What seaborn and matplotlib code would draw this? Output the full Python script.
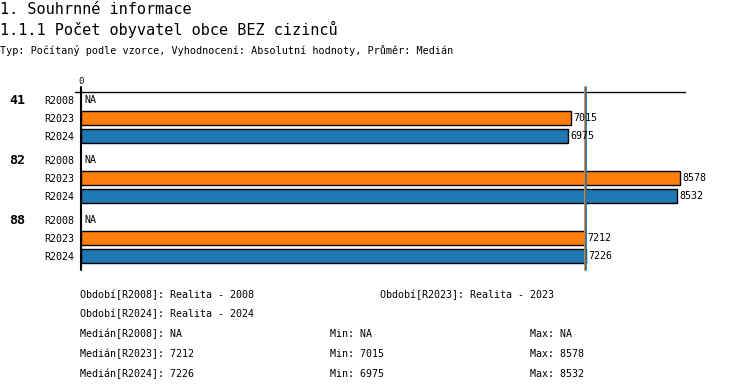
import numpy as np
import pandas as pd
import matplotlib
matplotlib.use("Agg")
import matplotlib.pyplot as plt
import seaborn as sns

# ---- data ----
groups = ["41", "82", "88"]
periods = ["R2008", "R2023", "R2024"]
r2008 = [np.nan, np.nan, np.nan]
r2023 = [7015, 8578, 7212]
r2024 = [6975, 8532, 7226]
period_desc = ["Realita - 2008", "Realita - 2023", "Realita - 2024"]
colors = {"R2008": "#999999", "R2023": "#ff7f0e", "R2024": "#1f77b4"}

title1 = "1. Souhrnné informace"
title2 = "1.1.1 Počet obyvatel obce BEZ cizinců"
subtitle = "Typ: Počítaný podle vzorce, Vyhodnocení: Absolutní hodnoty, Průměr: Medián"

series = {"R2008": r2008, "R2023": r2023, "R2024": r2024}

group_pitch = 60 / 18.0
rows = []
for gi, g in enumerate(groups):
    for pj, p in enumerate(periods):
        rows.append({"group": g, "period": p, "value": series[p][gi],
                     "pos": gi * group_pitch + pj})
df = pd.DataFrame(rows)

sns.set_theme(style="white")
plt.rcParams["font.family"] = ["DejaVu Sans Mono", "DejaVu Sans"]
for k in ["text.color", "axes.labelcolor", "xtick.color", "ytick.color"]:
    plt.rcParams[k] = "black"

W, H = 750, 392
fig = plt.figure(figsize=(W / 100, H / 100), dpi=100)
fig.patch.set_facecolor("white")

def px(x, y):
    return x / W, 1 - y / H

ax_l, ax_r, ax_t, ax_b = 81, 685, 92, 270
ax = fig.add_axes([ax_l / W, 1 - ax_b / H, (ax_r - ax_l) / W, (ax_b - ax_t) / H])

sns.barplot(data=df.dropna(subset=["value"]), x="value", y="pos", hue="period",
            palette=colors, orient="y", native_scale=True, dodge=False,
            width=0.82, errorbar=None, legend=False, edgecolor="black",
            linewidth=1.0, saturation=1, ax=ax)

ytop = -8 / 18
ybot = df["pos"].max() + 14 / 18
ax.set_ylim(ybot, ytop)
ax.set_xlim(0, 8650)
for s in ax.spines.values():
    s.set_visible(False)
ax.set_facecolor("white")
ax.set_xlabel("")
ax.set_ylabel("")

ax.set_yticks(df["pos"], df["period"])
ax.tick_params(axis="y", length=0, pad=5, labelsize=7.2)
ax.xaxis.tick_top()
ax.set_xticks([0], ["0"])
ax.tick_params(axis="x", length=0, pad=4, labelsize=6.5)

# axis lines
ax.plot([-0.01, 1], [1, 1], transform=ax.transAxes, color="black", lw=1.0, clip_on=False)
ax.axvline(0, ymin=0, ymax=1 + 5 / 178, color="black", lw=1.5, clip_on=False)

# median lines
for p in ["R2023", "R2024"]:
    med = np.median(series[p])
    ax.axvline(med, ymin=0, ymax=1 + 5 / 178, color=colors[p], lw=1.3, clip_on=False)

# value labels
for _, r in df.iterrows():
    if np.isnan(r["value"]):
        ax.annotate("NA", (0, r["pos"]), xytext=(2.5, 0), textcoords="offset points",
                    va="center", ha="left", fontsize=7.2)
    else:
        ax.annotate(f"{int(r['value'])}", (r["value"], r["pos"]), xytext=(2, 0),
                    textcoords="offset points", va="center", ha="left", fontsize=7.2)

# group labels
for gi, g in enumerate(groups):
    ax.annotate(g, (0, gi * group_pitch), xycoords=("figure fraction", "data"),
                xytext=(6.5, 0), textcoords="offset points",
                va="center", ha="left", fontsize=9.5, fontweight="bold")

# titles
fig.text(*px(0, 9), title1, fontsize=11, va="center", ha="left")
fig.text(*px(0, 29), title2, fontsize=11, va="center", ha="left")
fig.text(*px(0, 50), subtitle, fontsize=7.3, va="center", ha="left")

# footer
fs = 7.2
fig.text(*px(80, 295), f"Období[R2008]: {period_desc[0]}", fontsize=fs, va="center")
fig.text(*px(380, 295), f"Období[R2023]: {period_desc[1]}", fontsize=fs, va="center")
fig.text(*px(80, 314), f"Období[R2024]: {period_desc[2]}", fontsize=fs, va="center")

def fmt(v):
    return "NA" if np.isnan(v) else f"{int(v)}"

for i, p in enumerate(periods):
    vals = np.array(series[p], dtype=float)
    if np.all(np.isnan(vals)):
        med = mn = mx = np.nan
    else:
        med, mn, mx = np.nanmedian(vals), np.nanmin(vals), np.nanmax(vals)
    y = 334 + i * 20
    fig.text(*px(80, y), f"Medián[{p}]: {fmt(med)}", fontsize=fs, va="center")
    fig.text(*px(330, y), f"Min: {fmt(mn)}", fontsize=fs, va="center")
    fig.text(*px(530, y), f"Max: {fmt(mx)}", fontsize=fs, va="center")

fig.savefig("out.png", dpi=100, facecolor="white")
